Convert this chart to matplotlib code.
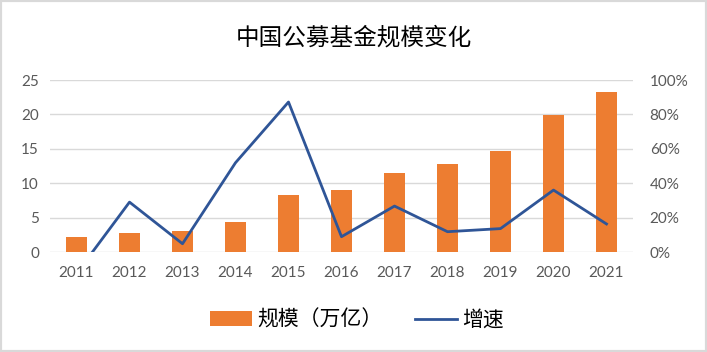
import numpy as np
import matplotlib.pyplot as plt
from matplotlib.patches import Rectangle
from matplotlib.ticker import PercentFormatter

plt.rcParams['font.family'] = ['Lato', 'Noto Sans CJK SC', 'DejaVu Sans']

# data
years = ['2011', '2012', '2013', '2014', '2015', '2016',
         '2017', '2018', '2019', '2020', '2021']
scale = [2.2, 2.8, 3.0, 4.4, 8.3, 9.0, 11.5, 12.8, 14.7, 19.9, 23.3]   # 万亿
growth = [-12.5, 29.0, 4.8, 51.9, 87.2, 8.9, 26.7, 11.8, 13.6, 36.0, 16.3]  # %

orange = '#ed7d31'
blue = '#2f5597'
grey_txt = '#595959'
grid_c = '#d9d9d9'

fig = plt.figure(figsize=(7.07, 3.52), dpi=100)
ax = fig.add_axes([50 / 707, 100 / 352, 583 / 707, 172 / 352])
x = np.arange(len(years))

ax.bar(x, scale, width=0.4, color=orange, zorder=2, label='规模（万亿）')
ax.set_ylim(0, 25)
ax.set_xlim(-0.5, len(years) - 0.5)
ax.set_yticks([0, 5, 10, 15, 20, 25])
ax.set_xticks(x)
ax.set_xticklabels(years)
ax.grid(axis='y', color=grid_c, linewidth=1)
ax.set_axisbelow(True)
for s in ax.spines.values():
    s.set_visible(False)
ax.tick_params(length=0, labelsize=11, colors=grey_txt, pad=8)
ax.tick_params(axis='x', pad=10)

ax2 = ax.twinx()
ax2.plot(x, growth, color=blue, linewidth=2, zorder=3, label='增速')
ax2.set_ylim(0, 100)
ax2.set_yticks([0, 20, 40, 60, 80, 100])
ax2.yaxis.set_major_formatter(PercentFormatter(decimals=0))
for s in ax2.spines.values():
    s.set_visible(False)
ax2.tick_params(length=0, labelsize=11, colors=grey_txt, pad=12)

fig.text(0.5, 1 - 38 / 352, '中国公募基金规模变化', ha='center', va='center',
         fontsize=17, family=['Noto Sans CJK SC'], color='black')

h1, l1 = ax.get_legend_handles_labels()
h2, l2 = ax2.get_legend_handles_labels()
fig.legend(h1 + h2, l1 + l2, loc='center', bbox_to_anchor=(0.505, 1 - 320 / 352),
           ncol=2, frameon=False, handlelength=2.0, handleheight=0.7,
           columnspacing=1.6, handletextpad=0.25,
           prop={'family': ['Noto Sans CJK SC'], 'size': 15})

fig.patches.append(Rectangle((0, 0), 1, 1, transform=fig.transFigure,
                             fill=False, edgecolor=grid_c, linewidth=3))

fig.savefig('out.png', dpi=100)
